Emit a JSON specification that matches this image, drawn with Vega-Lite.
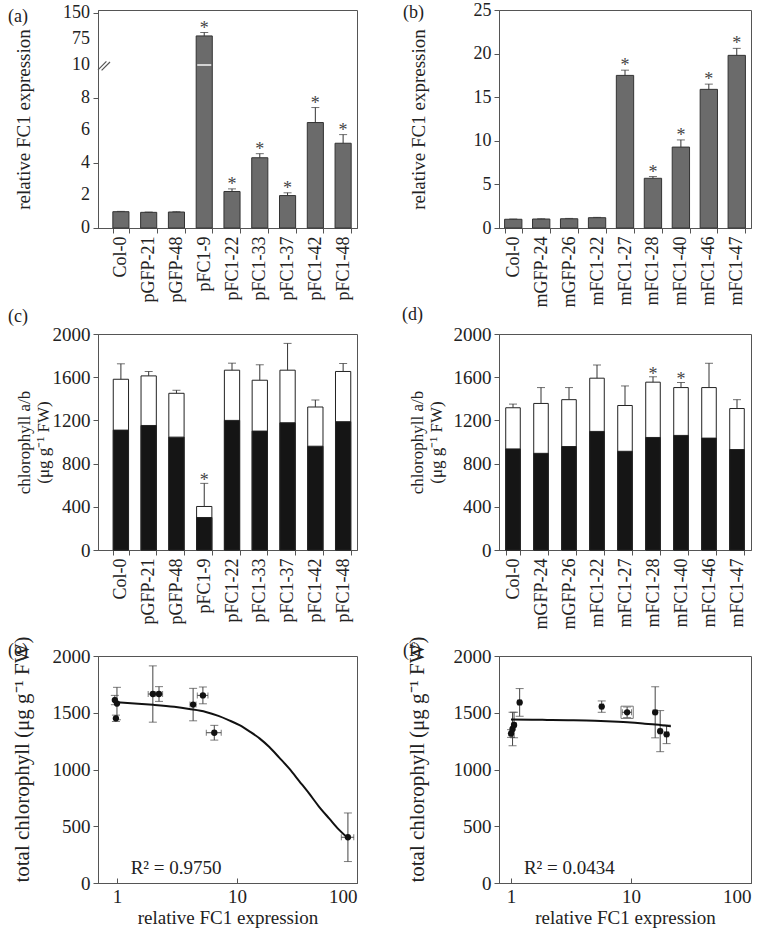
{
  "$schema": "https://vega.github.io/schema/vega-lite/v6.json",
  "padding": {"left": 7, "top": 0, "right": 5, "bottom": 2},
  "background": "white",
  "datasets": {
    "p": [
      {"g": "Col-0", "expr": 1.0, "expr_lo": 0.98, "expr_hi": 1.02, "sig_expr": false, "chla": 1110, "total": 1581, "total_lo": 1438, "total_hi": 1724, "sig_chl": false},
      {"g": "pGFP-21", "expr": 0.96, "expr_lo": 0.94, "expr_hi": 0.98, "sig_expr": false, "chla": 1153, "total": 1612, "total_lo": 1571, "total_hi": 1653, "sig_chl": false},
      {"g": "pGFP-48", "expr": 0.98, "expr_lo": 0.96, "expr_hi": 1.0, "sig_expr": false, "chla": 1045, "total": 1451, "total_lo": 1423, "total_hi": 1479, "sig_chl": false},
      {"g": "pFC1-9", "expr": 84, "expr_lo": 74, "expr_hi": 94, "sig_expr": true, "chla": 301, "total": 403, "total_lo": 189, "total_hi": 617, "sig_chl": true},
      {"g": "pFC1-22", "expr": 2.24, "expr_lo": 2.08, "expr_hi": 2.4, "sig_expr": true, "chla": 1200, "total": 1665, "total_lo": 1600, "total_hi": 1730, "sig_chl": false},
      {"g": "pFC1-33", "expr": 4.31, "expr_lo": 4.06, "expr_hi": 4.56, "sig_expr": true, "chla": 1101, "total": 1572, "total_lo": 1429, "total_hi": 1715, "sig_chl": false},
      {"g": "pFC1-37", "expr": 1.99, "expr_lo": 1.82, "expr_hi": 2.16, "sig_expr": true, "chla": 1178, "total": 1665, "total_lo": 1417, "total_hi": 1913, "sig_chl": false},
      {"g": "pFC1-42", "expr": 6.47, "expr_lo": 5.55, "expr_hi": 7.39, "sig_expr": true, "chla": 961, "total": 1324, "total_lo": 1259, "total_hi": 1389, "sig_chl": false},
      {"g": "pFC1-48", "expr": 5.2, "expr_lo": 4.67, "expr_hi": 5.73, "sig_expr": true, "chla": 1188, "total": 1653, "total_lo": 1579, "total_hi": 1727, "sig_chl": false}
    ],
    "m": [
      {"g": "Col-0", "expr": 1.0, "expr_lo": 0.97, "expr_hi": 1.03, "sig_expr": false, "chla": 936, "total": 1317, "total_lo": 1283, "total_hi": 1351, "sig_chl": false},
      {"g": "mGFP-24", "expr": 1.03, "expr_lo": 1.0, "expr_hi": 1.06, "sig_expr": false, "chla": 895, "total": 1357, "total_lo": 1210, "total_hi": 1504, "sig_chl": false},
      {"g": "mGFP-26", "expr": 1.06, "expr_lo": 1.02, "expr_hi": 1.1, "sig_expr": false, "chla": 958, "total": 1392, "total_lo": 1280, "total_hi": 1504, "sig_chl": false},
      {"g": "mFC1-22", "expr": 1.18, "expr_lo": 1.14, "expr_hi": 1.22, "sig_expr": false, "chla": 1098, "total": 1591, "total_lo": 1469, "total_hi": 1713, "sig_chl": false},
      {"g": "mFC1-27", "expr": 17.5, "expr_lo": 16.9, "expr_hi": 18.1, "sig_expr": true, "chla": 914, "total": 1338, "total_lo": 1157, "total_hi": 1519, "sig_chl": false},
      {"g": "mFC1-28", "expr": 5.7, "expr_lo": 5.5, "expr_hi": 5.9, "sig_expr": true, "chla": 1042, "total": 1554, "total_lo": 1504, "total_hi": 1604, "sig_chl": true},
      {"g": "mFC1-40", "expr": 9.28, "expr_lo": 8.46, "expr_hi": 10.1, "sig_expr": true, "chla": 1061, "total": 1504, "total_lo": 1457, "total_hi": 1551, "sig_chl": true},
      {"g": "mFC1-46", "expr": 15.9, "expr_lo": 15.3, "expr_hi": 16.5, "sig_expr": true, "chla": 1036, "total": 1504, "total_lo": 1279, "total_hi": 1729, "sig_chl": false},
      {"g": "mFC1-47", "expr": 19.8, "expr_lo": 19.0, "expr_hi": 20.6, "sig_expr": true, "chla": 930, "total": 1310, "total_lo": 1228, "total_hi": 1392, "sig_chl": false}
    ],
    "fit_e": [
      {"x": 1, "y": 1592}, {"x": 1.5, "y": 1580}, {"x": 2, "y": 1570}, {"x": 3, "y": 1552}, {"x": 4, "y": 1533},
      {"x": 5.5, "y": 1507}, {"x": 7, "y": 1472}, {"x": 8.6, "y": 1433}, {"x": 10.5, "y": 1390}, {"x": 12.7, "y": 1336},
      {"x": 15.5, "y": 1272}, {"x": 18.6, "y": 1198}, {"x": 22.5, "y": 1105}, {"x": 27.3, "y": 1007}, {"x": 33, "y": 898},
      {"x": 40, "y": 787}, {"x": 48, "y": 676}, {"x": 58.8, "y": 567}, {"x": 70, "y": 475}, {"x": 84, "y": 396}
    ],
    "fit_f": [
      {"x": 1, "y": 1440}, {"x": 1.5, "y": 1439}, {"x": 2, "y": 1437}, {"x": 3, "y": 1434}, {"x": 5, "y": 1429},
      {"x": 7, "y": 1423}, {"x": 10, "y": 1414}, {"x": 13, "y": 1404}, {"x": 16, "y": 1396}, {"x": 19, "y": 1387}, {"x": 21.5, "y": 1380}
    ],
    "brk": [{"pos": 0, "v": 10}],
    "ylab": [
      {"pos": 0, "v": 0, "t": "0"}, {"pos": 0, "v": 2, "t": "2"}, {"pos": 0, "v": 4, "t": "4"}, {"pos": 0, "v": 6, "t": "6"},
      {"pos": 0, "v": 8, "t": "8"}, {"pos": 0, "v": 10, "t": "10"}, {"pos": 0, "v": 75, "t": "75"}, {"pos": 0, "v": 150, "t": "150"}
    ],
    "r2e": [{"label": "R² = 0.9750", "x": 1.3, "y": 80}],
    "r2f": [{"label": "R² = 0.0434", "x": 1.28, "y": 80}]
  },
  "columns": 2,
  "bounds": "flush",
  "spacing": {"row": 106, "column": 142},
  "concat": [
    {
      "width": 259, "height": 218,
      "title": {"text": "(a)", "dx": -90, "baseline": "alphabetic", "offset": -36},
      "layer": [
        {
          "data": {"name": "p"},
          "encoding": {
            "x": {"field": "g", "type": "nominal", "sort": null, "title": null,
                  "scale": {"paddingInner": 0.42, "paddingOuter": 0.372, "align": 0.718},
                  "axis": {"labelAngle": -90, "tickBand": "extent"}}
          },
          "layer": [
            {"mark": {"type": "bar", "fill": "#6b6b6b", "stroke": "#333", "strokeWidth": 1},
             "encoding": {"y": {"field": "expr", "type": "quantitative", "title": "relative FC1 expression",
                                "scale": {"domain": [0, 10, 75, 150], "range": [218, 55, 29, 0]},
                                "axis": {"values": [0, 1, 2, 3, 4, 5, 6, 7, 8, 9, 10, 75, 150], "labels": false,
                                         "titlePadding": 59, "titleFontSize": 19}}}},
            {"mark": {"type": "rule", "color": "#333", "strokeWidth": 1},
             "encoding": {"y": {"field": "expr", "type": "quantitative"}, "y2": {"field": "expr_hi"}}},
            {"mark": {"type": "tick", "orient": "horizontal", "color": "#333", "thickness": 1, "size": 8},
             "encoding": {"y": {"field": "expr_hi", "type": "quantitative"}}},
            {"transform": [{"filter": "datum.g == 'pFC1-9'"}],
             "mark": {"type": "tick", "orient": "horizontal", "color": "white", "thickness": 2, "size": 14},
             "encoding": {"y": {"datum": 10, "type": "quantitative"}}},
            {"transform": [{"filter": "datum.sig_expr"}],
             "mark": {"type": "text", "text": "*", "fontSize": 18, "fill": "#444", "baseline": "alphabetic", "dy": 1},
             "encoding": {"y": {"field": "expr_hi", "type": "quantitative"}}}
          ]
        },
        {
          "data": {"name": "brk"},
          "mark": {"type": "point", "shape": "M0,0.4L0.7,-0.3M0.3,0.45L1.0,-0.25", "size": 576, "filled": false, "stroke": "#555", "strokeWidth": 1.2, "opacity": 1},
          "encoding": {
            "x": {"field": "pos", "type": "quantitative", "scale": {"domain": [0, 1]}, "axis": null},
            "y": {"field": "v", "type": "quantitative", "title": null, "axis": null}
          }
        },
        {
          "data": {"name": "ylab"},
          "mark": {"type": "text", "align": "right", "baseline": "middle", "dx": -8, "fontSize": 18, "fill": "#222"},
          "encoding": {
            "x": {"field": "pos", "type": "quantitative", "scale": {"domain": [0, 1]}, "axis": null},
            "y": {"field": "v", "type": "quantitative", "title": null, "axis": null},
            "text": {"field": "t"}
          }
        }
      ],
      "resolve": {"scale": {"x": "independent"}, "axis": {"y": "independent"}}
    },
    {
      "width": 252, "height": 218,
      "title": {"text": "(b)", "dx": -96, "baseline": "alphabetic", "offset": -35},
      "data": {"name": "m"},
      "encoding": {
        "x": {"field": "g", "type": "nominal", "sort": null, "title": null,
              "scale": {"paddingInner": 0.38, "paddingOuter": 0.2},
              "axis": {"labelAngle": -90, "tickBand": "extent"}}
      },
      "layer": [
        {"mark": {"type": "bar", "fill": "#6b6b6b", "stroke": "#333", "strokeWidth": 1},
         "encoding": {"y": {"field": "expr", "type": "quantitative", "title": "relative FC1 expression",
                            "scale": {"domain": [0, 25], "nice": false},
                            "axis": {"values": [0, 2.5, 5, 7.5, 10, 12.5, 15, 17.5, 20, 22.5, 25],
                                     "labelExpr": "datum.value % 5 == 0 ? datum.label : ''", "titlePadding": 45, "titleFontSize": 19}}}},
        {"mark": {"type": "rule", "color": "#333", "strokeWidth": 1},
         "encoding": {"y": {"field": "expr", "type": "quantitative"}, "y2": {"field": "expr_hi"}}},
        {"mark": {"type": "tick", "orient": "horizontal", "color": "#333", "thickness": 1, "size": 8},
         "encoding": {"y": {"field": "expr_hi", "type": "quantitative"}}},
        {"transform": [{"filter": "datum.sig_expr"}],
         "mark": {"type": "text", "text": "*", "fontSize": 18, "fill": "#444", "baseline": "alphabetic", "dy": 1},
         "encoding": {"y": {"field": "expr_hi", "type": "quantitative"}}}
      ]
    },
    {
      "width": 259, "height": 216,
      "title": {"text": "(c)", "dx": -90, "baseline": "alphabetic", "offset": -15},
      "data": {"name": "p"},
      "encoding": {
        "x": {"field": "g", "type": "nominal", "sort": null, "title": null,
              "scale": {"paddingInner": 0.45, "paddingOuter": 0.387, "align": 0.71},
              "axis": {"labelAngle": -90, "tickBand": "extent"}}
      },
      "layer": [
        {"mark": {"type": "bar", "fill": "white", "stroke": "#222", "strokeWidth": 1},
         "encoding": {"y": {"field": "total", "type": "quantitative", "title": ["chlorophyll a/b", "(μg g⁻¹ FW)"],
                            "scale": {"domain": [0, 2000], "nice": false},
                            "axis": {"values": [0, 200, 400, 600, 800, 1000, 1200, 1400, 1600, 1800, 2000],
                                     "labelExpr": "datum.value % 400 == 0 ? datum.label : ''", "format": "d", "labelFontSize": 19,
                                     "titlePadding": 0, "titleFontSize": 17, "titleLineHeight": 19}}}},
        {"mark": {"type": "bar", "fill": "#151515", "stroke": "#222", "strokeWidth": 1},
         "encoding": {"y": {"field": "chla", "type": "quantitative"}}},
        {"mark": {"type": "rule", "color": "#333", "strokeWidth": 1},
         "encoding": {"y": {"field": "total", "type": "quantitative"}, "y2": {"field": "total_hi"}}},
        {"mark": {"type": "tick", "orient": "horizontal", "color": "#333", "thickness": 1, "size": 8},
         "encoding": {"y": {"field": "total_hi", "type": "quantitative"}}},
        {"transform": [{"filter": "datum.sig_chl"}],
         "mark": {"type": "text", "text": "*", "fontSize": 18, "fill": "#444", "baseline": "alphabetic", "dy": 3},
         "encoding": {"y": {"field": "total_hi", "type": "quantitative"}}}
      ]
    },
    {
      "width": 252, "height": 216,
      "title": {"text": "(d)", "dx": -97, "baseline": "alphabetic", "offset": -13},
      "data": {"name": "m"},
      "encoding": {
        "x": {"field": "g", "type": "nominal", "sort": null, "title": null,
              "scale": {"paddingInner": 0.48, "paddingOuter": 0.24},
              "axis": {"labelAngle": -90, "tickBand": "extent"}}
      },
      "layer": [
        {"mark": {"type": "bar", "fill": "white", "stroke": "#222", "strokeWidth": 1},
         "encoding": {"y": {"field": "total", "type": "quantitative", "title": ["chlorophyll a/b", "(μg g⁻¹ FW)"],
                            "scale": {"domain": [0, 2000], "nice": false},
                            "axis": {"values": [0, 200, 400, 600, 800, 1000, 1200, 1400, 1600, 1800, 2000],
                                     "labelExpr": "datum.value % 400 == 0 ? datum.label : ''", "format": "d", "labelFontSize": 19,
                                     "titlePadding": 8, "titleFontSize": 17, "titleLineHeight": 19}}}},
        {"mark": {"type": "bar", "fill": "#151515", "stroke": "#222", "strokeWidth": 1},
         "encoding": {"y": {"field": "chla", "type": "quantitative"}}},
        {"mark": {"type": "rule", "color": "#333", "strokeWidth": 1},
         "encoding": {"y": {"field": "total", "type": "quantitative"}, "y2": {"field": "total_hi"}}},
        {"mark": {"type": "tick", "orient": "horizontal", "color": "#333", "thickness": 1, "size": 8},
         "encoding": {"y": {"field": "total_hi", "type": "quantitative"}}},
        {"transform": [{"filter": "datum.sig_chl"}],
         "mark": {"type": "text", "text": "*", "fontSize": 18, "fill": "#444", "baseline": "alphabetic", "dy": 3},
         "encoding": {"y": {"field": "total_hi", "type": "quantitative"}}}
      ]
    },
    {
      "width": 259, "height": 227,
      "title": {"text": "(e)", "dx": -90, "baseline": "alphabetic", "offset": -38},
      "layer": [
        {"data": {"name": "p"},
         "mark": {"type": "rule", "color": "#444", "strokeWidth": 1},
         "encoding": {
           "x": {"field": "expr", "type": "quantitative", "title": "relative FC1 expression",
                 "scale": {"type": "log", "domain": [0.695, 100], "nice": false},
                 "axis": {"values": [1, 10, 100], "format": "d", "tickSize": -5, "labelPadding": 9, "titlePadding": 2, "labelFontSize": 19, "titleFontSize": 19}},
           "y": {"field": "total_lo", "type": "quantitative", "title": "total chlorophyll (μg g⁻¹ FW)",
                 "scale": {"domain": [0, 2000], "nice": false},
                 "axis": {"values": [0, 500, 1000, 1500, 2000], "format": "d", "titlePadding": 20, "titleFontSize": 21, "labelFontSize": 19, "titleY": 103}},
           "y2": {"field": "total_hi"}
         }},
        {"data": {"name": "p"},
         "mark": {"type": "tick", "orient": "horizontal", "color": "#444", "thickness": 1, "size": 8},
         "encoding": {"x": {"field": "expr", "type": "quantitative"}, "y": {"field": "total_hi", "type": "quantitative"}}},
        {"data": {"name": "p"},
         "mark": {"type": "tick", "orient": "horizontal", "color": "#444", "thickness": 1, "size": 8},
         "encoding": {"x": {"field": "expr", "type": "quantitative"}, "y": {"field": "total_lo", "type": "quantitative"}}},
        {"data": {"name": "p"},
         "mark": {"type": "rule", "color": "#444", "strokeWidth": 1},
         "encoding": {"x": {"field": "expr_lo", "type": "quantitative"}, "x2": {"field": "expr_hi"}, "y": {"field": "total", "type": "quantitative"}}},
        {"data": {"name": "p"},
         "mark": {"type": "tick", "orient": "vertical", "color": "#444", "thickness": 1, "size": 6},
         "encoding": {"x": {"field": "expr_lo", "type": "quantitative"}, "y": {"field": "total", "type": "quantitative"}}},
        {"data": {"name": "p"},
         "mark": {"type": "tick", "orient": "vertical", "color": "#444", "thickness": 1, "size": 6},
         "encoding": {"x": {"field": "expr_hi", "type": "quantitative"}, "y": {"field": "total", "type": "quantitative"}}},
        {"data": {"name": "fit_e"},
         "mark": {"type": "line", "color": "#111", "strokeWidth": 2, "interpolate": "monotone"},
         "encoding": {"x": {"field": "x", "type": "quantitative"}, "y": {"field": "y", "type": "quantitative"}}},
        {"data": {"name": "p"},
         "mark": {"type": "point", "filled": true, "color": "#111", "size": 40, "opacity": 1},
         "encoding": {"x": {"field": "expr", "type": "quantitative"}, "y": {"field": "total", "type": "quantitative"}}},
        {"data": {"name": "r2e"},
         "mark": {"type": "text", "fontSize": 19, "align": "left", "baseline": "alphabetic", "fill": "#222"},
         "encoding": {"x": {"field": "x", "type": "quantitative"}, "y": {"field": "y", "type": "quantitative"}, "text": {"field": "label"}}}
      ]
    },
    {
      "width": 252, "height": 227,
      "title": {"text": "(f)", "dx": -96, "baseline": "alphabetic", "offset": -38},
      "layer": [
        {"data": {"name": "m"},
         "mark": {"type": "rule", "color": "#444", "strokeWidth": 1},
         "encoding": {
           "x": {"field": "expr", "type": "quantitative", "title": "relative FC1 expression",
                 "scale": {"type": "log", "domain": [0.794, 100], "nice": false},
                 "axis": {"values": [1, 10, 100], "format": "d", "tickSize": -5, "labelPadding": 9, "titlePadding": 2, "labelFontSize": 19, "titleFontSize": 19}},
           "y": {"field": "total_lo", "type": "quantitative", "title": "total chlorophyll (μg g⁻¹ FW)",
                 "scale": {"domain": [0, 2000], "nice": false},
                 "axis": {"values": [0, 500, 1000, 1500, 2000], "format": "d", "titlePadding": 26, "titleFontSize": 21, "labelFontSize": 19, "titleY": 103}},
           "y2": {"field": "total_hi"}
         }},
        {"data": {"name": "m"},
         "mark": {"type": "tick", "orient": "horizontal", "color": "#444", "thickness": 1, "size": 8},
         "encoding": {"x": {"field": "expr", "type": "quantitative"}, "y": {"field": "total_hi", "type": "quantitative"}}},
        {"data": {"name": "m"},
         "mark": {"type": "tick", "orient": "horizontal", "color": "#444", "thickness": 1, "size": 8},
         "encoding": {"x": {"field": "expr", "type": "quantitative"}, "y": {"field": "total_lo", "type": "quantitative"}}},
        {"data": {"name": "m"},
         "mark": {"type": "rule", "color": "#444", "strokeWidth": 1},
         "encoding": {"x": {"field": "expr_lo", "type": "quantitative"}, "x2": {"field": "expr_hi"}, "y": {"field": "total", "type": "quantitative"}}},
        {"data": {"name": "m"},
         "mark": {"type": "tick", "orient": "vertical", "color": "#444", "thickness": 1, "size": 6},
         "encoding": {"x": {"field": "expr_lo", "type": "quantitative"}, "y": {"field": "total", "type": "quantitative"}}},
        {"data": {"name": "m"},
         "mark": {"type": "tick", "orient": "vertical", "color": "#444", "thickness": 1, "size": 6},
         "encoding": {"x": {"field": "expr_hi", "type": "quantitative"}, "y": {"field": "total", "type": "quantitative"}}},
        {"data": {"name": "fit_f"},
         "mark": {"type": "line", "color": "#111", "strokeWidth": 2, "interpolate": "monotone"},
         "encoding": {"x": {"field": "x", "type": "quantitative"}, "y": {"field": "y", "type": "quantitative"}}},
        {"data": {"name": "m"},
         "transform": [{"filter": "datum.g == 'mFC1-40'"}],
         "mark": {"type": "point", "shape": "square", "filled": false, "stroke": "#777", "strokeWidth": 1, "size": 150, "opacity": 1},
         "encoding": {"x": {"field": "expr", "type": "quantitative"}, "y": {"field": "total", "type": "quantitative"}}},
        {"data": {"name": "m"},
         "mark": {"type": "point", "filled": true, "color": "#111", "size": 40, "opacity": 1},
         "encoding": {"x": {"field": "expr", "type": "quantitative"}, "y": {"field": "total", "type": "quantitative"}}},
        {"data": {"name": "r2f"},
         "mark": {"type": "text", "fontSize": 19, "align": "left", "baseline": "alphabetic", "fill": "#222"},
         "encoding": {"x": {"field": "x", "type": "quantitative"}, "y": {"field": "y", "type": "quantitative"}, "text": {"field": "label"}}}
      ]
    }
  ],
  "config": {
    "font": "Liberation Serif",
    "view": {"stroke": "#555", "strokeWidth": 1},
    "text": {"font": "Liberation Serif"},
    "axis": {"labelFont": "Liberation Serif", "titleFont": "Liberation Serif", "labelFontSize": 18, "titleFontSize": 18, "labelOverlap": false,
             "titleFontWeight": "normal", "labelColor": "#222", "titleColor": "#222", "domainColor": "#555", "tickColor": "#555",
             "grid": false, "tickSize": 5, "labelPadding": 3},
    "title": {"font": "Liberation Serif", "fontSize": 18, "fontWeight": "normal", "anchor": "start", "frame": "group", "color": "#222"}
  }
}
